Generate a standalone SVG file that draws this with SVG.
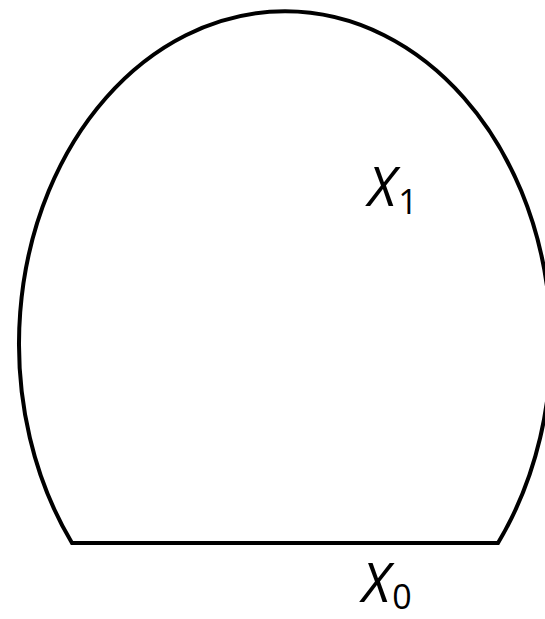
<svg xmlns="http://www.w3.org/2000/svg" width="545" height="619" viewBox="0 0 545 619">
<style>
.s{fill:none;stroke:#000;stroke-width:4;stroke-linejoin:miter}
.t{font-family:"Open Sans","Liberation Sans",sans-serif;fill:#000}
.x{font-style:italic;font-size:54px}
.sub{font-size:34px}
</style>
<g id="shape">
<path class="s" d="M72,543 A266,332.5 0 1 1 498,543 Z"/>
</g>
<g id="label-x1">
<text class="t" x="368" y="206"><tspan class="x">X</tspan><tspan class="sub" dx="2" dy="8">1</tspan></text>
</g>
<g id="label-x0">
<text class="t" x="362" y="602"><tspan class="x">X</tspan><tspan class="sub" dx="2" dy="7">0</tspan></text>
</g>
</svg>
